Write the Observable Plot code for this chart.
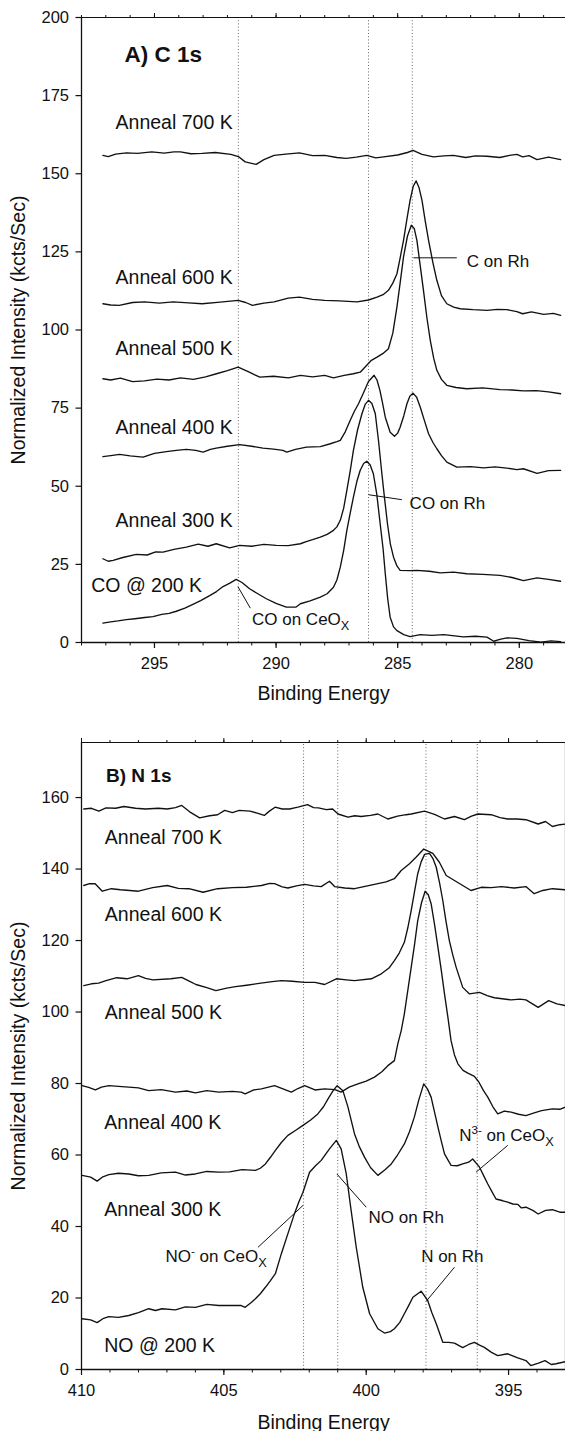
<!DOCTYPE html>
<html><head><meta charset="utf-8">
<script src="https://cdn.jsdelivr.net/npm/d3@7"></script>
<script src="https://cdn.jsdelivr.net/npm/@observablehq/plot@0.6"></script>
<style>
body{margin:0;background:#fff;}
#chart{width:565px;}
#chart svg{display:block;}
</style></head><body><div id="chart"></div>
<script>
const FONT = "'Liberation Sans', Arial, Helvetica, sans-serif";

// ---------- Panel A: C 1s ----------
const c1s_200K = [[297.12,6.2],[296.8,6.6],[296.5,6.9],[296.16,7.3],[295.8,7.6],[295.4,8.0],[295.06,8.3],[294.7,9.0],[294.4,9.3],[294.10,10.0],[293.75,11.0],[293.42,12.2],[293.1,13.4],[292.73,15.0],[292.45,16.3],[292.18,17.9],[291.9,19.0],[291.64,20.2],[291.4,19.2],[291.09,17.2],[290.75,15.6],[290.40,14.0],[290.0,12.5],[289.58,11.3],[289.19,11.3],[289.0,12.4],[288.6,13.3],[288.18,14.5],[287.9,15.6],[287.64,17.7],[287.5,20.0],[287.36,24.1],[287.22,29.5],[287.09,35.9],[286.95,41.5],[286.82,46.5],[286.68,51.5],[286.54,55.1],[286.4,57.3],[286.27,58.0],[286.13,56.8],[286.0,54.0],[285.86,47.5],[285.72,38.0],[285.6,30.0],[285.51,22.0],[285.41,14.0],[285.31,8.1],[285.17,5.0],[285.03,3.8],[284.75,2.5],[284.49,1.9],[284.07,2.5],[283.6,2.3],[283.1,2.5],[282.84,2.3],[282.3,1.8],[281.8,2.0],[281.33,1.7],[281.05,0.4],[280.8,1.0],[280.51,1.5],[280.1,1.3],[279.6,0.6],[279.1,0.1],[278.7,0.5],[278.3,0.3]];
const c1s_300K = [[297.12,26.8],[296.9,26.0],[296.7,26.3],[296.3,27.2],[295.75,28.2],[295.3,28.0],[294.95,29.0],[294.65,28.9],[294.2,29.8],[293.69,30.5],[293.2,31.5],[292.8,30.8],[292.46,31.6],[291.91,30.3],[291.5,31.1],[291.0,30.8],[290.5,31.4],[289.99,31.1],[289.5,31.0],[289.0,31.6],[288.76,32.3],[288.5,32.9],[288.18,33.7],[287.9,34.6],[287.64,35.9],[287.5,37.0],[287.36,39.1],[287.22,43.0],[287.09,48.7],[286.95,55.0],[286.82,61.5],[286.65,68.0],[286.47,73.2],[286.33,76.3],[286.2,77.5],[286.06,76.5],[285.92,73.2],[285.78,64.0],[285.65,54.0],[285.53,45.5],[285.42,38.0],[285.3,31.5],[285.17,27.3],[285.03,24.5],[284.9,23.1],[284.5,23.0],[284.21,23.1],[283.7,22.8],[283.25,22.3],[282.7,22.5],[282.16,22.0],[281.5,21.8],[280.79,21.5],[280.3,20.8],[279.83,19.8],[279.27,20.7],[278.8,20.2],[278.3,19.6]];
const c1s_400K = [[297.12,59.5],[296.8,59.8],[296.43,60.2],[296.0,59.7],[295.47,59.3],[295.0,60.5],[294.51,61.1],[294.1,61.5],[293.69,61.8],[293.3,61.5],[293.0,60.9],[292.7,61.8],[292.46,62.2],[292.0,62.8],[291.5,63.3],[291.0,62.8],[290.54,62.2],[290.1,61.9],[289.72,61.5],[289.56,60.9],[289.2,61.8],[288.75,62.5],[288.18,62.7],[287.77,63.6],[287.5,64.3],[287.36,64.7],[287.15,67.5],[286.95,71.1],[286.78,74.0],[286.61,76.4],[286.4,80.0],[286.2,83.5],[285.97,85.5],[285.85,84.0],[285.73,80.7],[285.62,76.5],[285.51,72.1],[285.31,67.3],[285.13,66.0],[285.0,67.0],[284.9,68.9],[284.75,72.5],[284.62,76.4],[284.5,78.8],[284.37,79.8],[284.22,78.5],[284.07,75.3],[283.9,71.0],[283.73,66.8],[283.55,64.0],[283.39,62.0],[283.2,59.8],[282.98,57.7],[282.57,56.1],[282.0,56.3],[281.47,55.9],[281.0,56.2],[280.51,55.8],[280.1,55.3],[279.83,55.6],[279.27,54.1],[278.8,55.0],[278.3,55.1]];
const c1s_500K = [[297.12,84.4],[296.8,84.0],[296.4,84.6],[295.9,83.5],[295.41,83.7],[294.9,84.3],[294.4,84.0],[293.93,84.7],[293.4,84.2],[292.9,85.0],[292.45,86.0],[292.0,87.0],[291.56,88.1],[291.1,86.5],[290.67,84.9],[290.1,85.2],[289.49,84.7],[289.0,85.5],[288.5,85.0],[288.0,85.5],[287.64,84.7],[287.2,85.5],[286.82,86.0],[286.54,86.5],[286.3,88.5],[286.08,90.3],[285.85,91.3],[285.6,92.5],[285.38,94.0],[285.2,99.0],[285.03,107.4],[284.9,115.0],[284.76,123.4],[284.6,130.0],[284.44,133.5],[284.32,132.5],[284.21,128.7],[284.08,121.0],[283.94,112.7],[283.8,104.0],[283.66,96.7],[283.52,91.0],[283.39,87.1],[283.2,84.2],[282.98,82.3],[282.6,81.6],[282.16,81.2],[281.5,81.5],[280.79,80.9],[280.3,80.8],[279.83,80.5],[279.3,80.6],[278.8,80.2],[278.3,79.6]];
const c1s_600K = [[297.12,108.4],[296.8,108.0],[296.45,107.9],[295.9,108.8],[295.41,109.0],[294.8,108.6],[294.23,109.0],[293.6,108.7],[293.04,108.4],[292.3,108.9],[291.56,109.5],[291.25,108.8],[290.97,107.9],[290.5,108.6],[290.08,109.0],[289.5,110.2],[289.04,110.5],[288.5,109.8],[288.0,109.5],[287.4,109.3],[286.67,109.0],[286.2,109.6],[285.85,110.5],[285.6,111.3],[285.38,112.7],[285.2,115.0],[285.03,118.0],[284.9,123.0],[284.76,128.7],[284.62,135.5],[284.49,141.5],[284.36,146.0],[284.24,147.7],[284.12,145.5],[284.0,141.5],[283.87,135.0],[283.73,128.7],[283.55,121.5],[283.39,115.9],[283.2,111.0],[282.98,108.4],[282.7,107.3],[282.43,106.8],[281.9,106.5],[281.33,106.3],[280.9,106.6],[280.51,106.5],[280.1,105.9],[279.86,105.2],[279.5,105.8],[279.0,105.0],[278.6,105.3],[278.3,104.7]];
const c1s_700K = [[297.12,155.9],[296.9,155.5],[296.6,156.3],[296.15,156.7],[295.7,156.5],[295.11,157.0],[294.6,156.6],[294.2,157.0],[293.93,157.0],[293.5,156.4],[293.04,156.5],[292.5,156.8],[291.86,156.2],[291.55,155.5],[291.27,153.8],[290.82,153.0],[290.5,154.5],[290.08,155.9],[289.6,156.3],[289.04,156.7],[288.5,155.8],[288.0,155.9],[287.5,155.2],[287.12,154.9],[286.7,155.3],[286.27,155.9],[285.9,155.1],[285.58,155.4],[285.0,156.0],[284.6,156.8],[284.37,157.5],[284.0,156.2],[283.53,155.4],[283.1,155.7],[282.71,155.9],[282.2,155.2],[281.8,155.7],[281.33,155.6],[280.8,155.2],[280.4,155.9],[280.1,156.2],[279.86,155.4],[279.6,155.8],[279.27,154.5],[278.8,155.3],[278.3,154.5]];
const seriesA = [c1s_200K, c1s_300K, c1s_400K, c1s_500K, c1s_600K, c1s_700K];
const refLinesA = [291.55, 286.2, 284.4];
const labelsA = ["Anneal 700 K","Anneal 600 K","Anneal 500 K","Anneal 400 K","Anneal 300 K","CO @ 200 K"];
const labelsA_E = [296.6, 296.6, 296.6, 296.6, 296.6, 297.6];
const labelsA_V = [164.4, 114.8, 92.0, 66.8, 36.9, 16.1];
const notesA = ["C on Rh", "CO on Rh", "CO on CeO_X"];
const notesA_E = [282.16, 284.51, 290.99];
const notesA_V = [120.3, 42.6, 5.7];
const leadersA = [[[284.35,123.1],[282.57,123.1]], [[286.2,47.3],[284.83,45.7]], [[291.57,17.9],[291.06,11.0]]];
const xTicksA = [295, 290, 285, 280];
const xMinorA = [279,280,281,282,283,284,285,286,287,288,289,290,291,292,293,294,295,296,297,298];
const yTicksA = [0, 25, 50, 75, 100, 125, 150, 175, 200];

// ---------- Panel B: N 1s ----------
const n1s_200K = [[409.98,14.2],[409.68,13.9],[409.45,13.1],[409.25,14.2],[409.04,14.8],[408.7,14.6],[408.34,15.1],[408.0,15.9],[407.64,17.0],[407.4,16.5],[407.17,17.0],[406.7,16.7],[406.35,17.5],[406.0,17.4],[405.6,18.2],[405.18,17.9],[404.71,17.9],[404.39,17.9],[404.25,17.4],[404.05,18.7],[403.89,19.8],[403.72,21.2],[403.54,23.0],[403.37,24.8],[403.19,26.8],[402.98,32.4],[402.75,38.0],[402.52,43.6],[402.37,46.8],[402.22,49.6],[401.99,55.2],[401.78,57.0],[401.58,58.5],[401.43,60.2],[401.29,61.7],[401.05,64.1],[400.88,61.7],[400.7,54.7],[400.53,44.5],[400.35,34.2],[400.12,23.0],[399.88,15.6],[399.59,11.4],[399.36,10.2],[399.15,10.6],[399.01,11.4],[398.82,13.2],[398.66,15.6],[398.5,18.0],[398.36,20.2],[398.07,21.9],[397.84,19.3],[397.7,16.0],[397.54,12.8],[397.31,7.6],[397.1,7.6],[396.9,7.4],[396.61,6.1],[396.4,7.0],[396.2,7.6],[396.02,6.8],[395.85,6.2],[395.6,4.8],[395.38,3.9],[395.03,4.4],[394.7,3.3],[394.39,2.5],[394.22,1.1],[393.95,1.8],[393.72,2.5],[393.5,1.4],[393.33,1.6],[393.0,2.2]];
const n1s_300K = [[409.98,54.3],[409.68,53.8],[409.45,52.7],[409.25,53.9],[409.04,54.5],[408.7,54.9],[408.34,54.7],[408.0,54.2],[407.64,54.3],[407.2,55.0],[406.7,55.2],[406.35,54.4],[406.0,54.7],[405.6,55.4],[405.18,55.2],[404.8,55.3],[404.36,55.9],[403.89,55.7],[403.72,56.3],[403.54,57.5],[403.37,59.3],[403.19,61.3],[402.98,63.5],[402.75,65.5],[402.5,66.8],[402.22,68.3],[401.95,69.8],[401.7,71.5],[401.5,73.5],[401.34,75.7],[401.18,77.8],[401.02,79.4],[400.82,78.0],[400.64,73.4],[400.52,69.5],[400.41,65.9],[400.25,62.5],[400.06,59.4],[399.85,56.5],[399.59,54.3],[399.35,55.8],[399.12,57.5],[398.9,60.0],[398.66,63.1],[398.48,66.5],[398.31,70.6],[398.15,75.5],[397.98,79.9],[397.85,78.5],[397.72,76.2],[397.6,72.0],[397.48,67.8],[397.36,63.8],[397.25,60.3],[397.02,57.1],[396.8,57.0],[396.61,57.5],[396.4,58.0],[396.26,58.9],[396.02,56.6],[395.88,54.3],[395.73,51.9],[395.58,49.7],[395.44,47.7],[395.2,47.2],[395.03,46.8],[394.85,46.3],[394.68,46.2],[394.55,45.2],[394.39,45.4],[394.15,44.5],[393.96,43.5],[393.7,44.5],[393.46,44.7],[393.2,44.0],[393.0,44.0]];
const n1s_400K = [[409.98,79.4],[409.75,78.9],[409.51,78.2],[409.3,79.0],[409.04,79.4],[408.7,79.2],[408.34,79.0],[408.0,78.8],[407.64,78.0],[407.2,78.3],[406.7,77.6],[406.3,77.9],[406.0,77.4],[405.6,78.0],[405.18,77.6],[404.7,77.8],[404.39,77.6],[404.25,77.1],[403.95,78.2],[403.68,78.5],[403.22,79.4],[402.9,78.4],[402.63,77.6],[402.4,78.6],[402.16,79.4],[401.8,78.2],[401.46,78.5],[401.1,78.3],[400.88,77.6],[400.6,79.0],[400.29,79.9],[400.0,80.7],[399.71,81.8],[399.45,83.3],[399.24,85.0],[399.01,86.4],[398.89,91.1],[398.77,94.8],[398.66,99.5],[398.54,106.0],[398.42,112.5],[398.3,119.0],[398.19,125.6],[398.06,130.5],[397.93,133.8],[397.82,132.8],[397.72,130.3],[397.6,124.5],[397.48,118.1],[397.36,111.5],[397.25,105.1],[397.13,98.5],[397.02,92.0],[396.9,88.0],[396.78,85.5],[396.6,83.7],[396.43,82.9],[396.2,82.0],[396.05,80.5],[395.88,78.0],[395.73,76.2],[395.55,73.5],[395.38,71.5],[395.15,72.3],[394.91,72.0],[394.65,71.4],[394.39,71.0],[394.1,71.8],[393.84,72.4],[393.46,72.9],[393.2,72.8],[393.0,73.4]];
const n1s_500K = [[409.92,107.4],[409.65,107.9],[409.4,108.1],[409.14,108.8],[408.76,109.6],[408.4,109.3],[408.0,110.2],[407.75,109.4],[407.49,109.0],[406.86,109.3],[406.48,109.7],[406.2,108.6],[405.98,107.7],[405.6,106.8],[405.28,106.0],[404.9,106.7],[404.59,107.1],[404.2,107.5],[403.7,108.1],[403.3,108.5],[402.98,108.8],[402.6,108.6],[402.16,108.3],[401.8,108.3],[401.46,107.7],[401.05,109.3],[400.7,109.0],[400.41,108.8],[399.82,109.3],[399.47,110.7],[399.2,112.3],[399.01,114.4],[398.84,116.5],[398.66,119.5],[398.54,123.5],[398.42,128.4],[398.3,133.8],[398.19,138.7],[398.07,142.0],[397.95,144.1],[397.78,144.4],[397.66,143.0],[397.54,140.5],[397.42,136.0],[397.31,131.2],[397.2,125.5],[397.08,120.0],[396.96,116.0],[396.84,112.5],[396.61,106.9],[396.38,105.1],[396.02,105.5],[395.75,104.6],[395.5,104.0],[394.91,103.4],[394.6,103.6],[394.39,103.4],[393.96,101.3],[393.59,103.2],[393.3,102.3],[393.0,101.8]];
const n1s_600K = [[409.92,135.4],[409.72,135.9],[409.52,135.9],[409.27,133.8],[408.95,134.5],[408.63,134.2],[408.3,134.0],[408.0,133.8],[407.5,134.8],[406.99,135.4],[406.6,134.6],[406.23,134.5],[405.73,133.5],[405.22,134.5],[404.7,134.8],[404.21,134.9],[403.68,135.4],[403.39,136.0],[403.22,135.9],[402.95,135.0],[402.75,134.7],[402.45,135.3],[402.16,135.7],[401.85,135.3],[401.58,135.1],[401.29,136.6],[401.11,135.1],[400.75,134.7],[400.41,134.5],[400.0,135.2],[399.59,135.9],[399.3,136.4],[399.01,137.3],[398.77,139.6],[398.48,141.5],[398.25,143.3],[397.98,145.6],[397.66,144.4],[397.43,141.9],[397.19,138.2],[396.9,136.8],[396.61,135.4],[396.32,134.0],[395.96,134.9],[395.6,134.8],[395.26,135.1],[394.8,134.7],[394.39,135.1],[394.1,133.1],[393.8,134.0],[393.46,134.5],[393.0,134.2]];
const n1s_700K = [[409.92,156.8],[409.65,157.0],[409.39,156.2],[409.14,157.1],[408.8,157.0],[408.51,157.5],[408.1,157.0],[407.75,156.8],[407.3,157.0],[406.99,156.8],[406.7,157.2],[406.48,157.8],[406.2,156.0],[405.85,154.3],[405.5,154.9],[405.22,155.2],[404.97,156.4],[404.7,155.8],[404.46,156.4],[404.08,156.2],[403.8,155.6],[403.58,155.0],[403.4,156.2],[403.2,157.3],[402.95,156.8],[402.69,156.8],[402.4,157.3],[402.06,158.0],[401.85,157.2],[401.68,157.1],[401.4,156.6],[401.18,156.8],[400.99,155.4],[400.64,154.5],[400.4,154.9],[400.18,154.7],[399.85,155.0],[399.59,155.4],[399.24,154.0],[398.9,154.8],[398.6,155.2],[398.42,155.4],[397.95,156.2],[397.6,155.3],[397.25,154.0],[396.9,154.7],[396.55,153.8],[396.3,154.8],[396.08,155.4],[395.61,155.2],[395.3,154.4],[395.03,154.0],[394.7,154.0],[394.39,153.8],[393.96,152.6],[393.7,153.3],[393.46,151.9],[393.2,152.4],[393.0,152.6]];
const seriesB = [n1s_200K, n1s_300K, n1s_400K, n1s_500K, n1s_600K, n1s_700K];
const refLinesB = [402.2, 401.0, 397.9, 396.1];
const labelsB = ["Anneal 700 K","Anneal 600 K","Anneal 500 K","Anneal 400 K","Anneal 300 K","NO @ 200 K"];
const labelsB_E = [409.18, 409.18, 409.18, 409.2, 409.2, 409.2];
const labelsB_V = [147.0, 125.6, 98.1, 67.3, 42.9, 4.8];
const notesB = ["NO^- on CeO_X", "NO on Rh", "N on Rh", "N^3- on CeO_X"];
const notesB_E = [407.05, 399.92, 398.07, 396.73];
const notesB_V = [30.0, 41.0, 30.2, 63.9];
const leadersB = [[[402.22,45.9],[403.8,34.2]], [[401.03,54.7],[400.0,45.4]], [[396.9,28.6],[397.89,19.1]], [[395.03,62.7],[396.14,55.2]]];
const xTicksB = [410, 405, 400, 395];
const xMinorB = [393,394,395,396,397,398,399,400,401,402,403,404,405,406,407,408,409,410];
const yTicksB = [0, 20, 40, 60, 80, 100, 120, 140, 160];

function toRows(series) {
  return series.flatMap((s, k) => s.map(([e, v]) => ({e, v, k})));
}

function panel(cfg) {
  const [x0, x1] = cfg.xDomain, [y0, y1] = cfg.yDomain;
  const labels = cfg.labels.map((t, i) => ({t, e: cfg.labelsE[i], v: cfg.labelsV[i]}));
  const notes = cfg.notes.map((t, i) => ({t, e: cfg.notesE[i], v: cfg.notesV[i]}));
  const leaders = cfg.leaders.map(([a, b]) => ({x1: a[0], y1: a[1], x2: b[0], y2: b[1]}));
  const marks = [
    Plot.ruleX(cfg.refLines, {y1: y0, y2: y1, stroke: "#666", strokeWidth: 1, strokeDasharray: "1,2.2"}),
    Plot.line(toRows(cfg.series), {x: "e", y: "v", z: "k", stroke: "#111", strokeWidth: 1.35, curve: "linear"}),
    Plot.link(leaders, {x1: "x1", y1: "y1", x2: "x2", y2: "y2", stroke: "#111", strokeWidth: 1}),
    Plot.text(labels, {x: "e", y: "v", text: "t", textAnchor: "start", lineAnchor: "bottom", fontSize: 19.5, fill: "#111"}),
    Plot.text(notes, {x: "e", y: "v", text: "t", textAnchor: "start", lineAnchor: "bottom", fontSize: 17, fill: "#111"}),
    Plot.text([cfg.title], {x: cfg.titleE, y: cfg.titleV, text: d => d, textAnchor: "start", lineAnchor: "bottom", fontSize: cfg.titleSize, fontWeight: "bold", fill: "#111"}),
    // frame lines
    Plot.ruleX([x0], {y1: y0, y2: y1, stroke: "#111", strokeWidth: 1.3}),
    Plot.ruleY([y0], {stroke: "#111", strokeWidth: 1.3}),
    Plot.ruleY([y1], {stroke: "#111", strokeWidth: 1.1}),
    // top ticks (outward)
    Plot.axisX(cfg.xMinor, {anchor: "top", tickSize: 3, tickFormat: () => "", label: null, strokeWidth: 1}),
    Plot.axisX(cfg.xTicks, {anchor: "top", tickSize: 5, tickFormat: () => "", label: null, strokeWidth: 1}),
    // bottom axis
    Plot.axisX(cfg.xMinor, {anchor: "bottom", tickSize: 3.5, tickFormat: () => "", label: null, strokeWidth: 1}),
    Plot.axisX(cfg.xTicks, {anchor: "bottom", tickSize: 6, tickPadding: 8.5, fontSize: 16.5, label: null, strokeWidth: 1.2}),
    Plot.axisX([], {anchor: "bottom", tickSize: 0, fontSize: 19.5, label: "Binding Energy", labelAnchor: "center", labelArrow: "none", labelOffset: cfg.xLabelOffset}),
    Plot.axisY(cfg.yTicks, {anchor: "left", tickSize: 5.5, tickPadding: 7, fontSize: 16.5, label: null, strokeWidth: 1.2}),
    Plot.axisY([], {anchor: "left", tickSize: 0, fontSize: 19.5, label: "Normalized Intensity (kcts/Sec)", labelAnchor: "center", labelArrow: "none", labelOffset: 70})
  ];
  if (cfg.rightFrame) marks.push(Plot.ruleX([x1], {y1: y0, y2: y1, stroke: "#111", strokeWidth: 1.2}));
  return Plot.plot({
    width: 565, height: cfg.height,
    marginLeft: 81, marginRight: 0, marginTop: cfg.marginTop, marginBottom: cfg.marginBottom,
    style: {fontFamily: FONT, fontSize: "19.5px", color: "#111", background: "#fff"},
    x: {domain: cfg.xDomain},
    y: {domain: cfg.yDomain},
    marks
  });
}

function richText(svg) {
  d3.select(svg).selectAll("text").each(function () {
    const t = this.textContent;
    if (!/[_^]/.test(t)) return;
    const parts = t.split(/(\^\S+|_\S+)/).filter(s => s.length);
    const sel = d3.select(this);
    sel.text(null);
    for (const p of parts) {
      if (p[0] === "^") sel.append("tspan").attr("baseline-shift", "7").attr("font-size", "0.68em").text(p.slice(1));
      else if (p[0] === "_") sel.append("tspan").attr("baseline-shift", "-5").attr("font-size", "0.75em").text(p.slice(1));
      else sel.append("tspan").text(p);
    }
  });
}

const svgA = panel({
  height: 705, marginTop: 17, marginBottom: 63,
  xDomain: [298, 278.1], yDomain: [0, 200],
  series: seriesA, refLines: refLinesA,
  labels: labelsA, labelsE: labelsA_E, labelsV: labelsA_V,
  notes: notesA, notesE: notesA_E, notesV: notesA_V, leaders: leadersA,
  title: "A) C 1s", titleE: 296.23, titleV: 185.7, titleSize: 22.5,
  xTicks: xTicksA, xMinor: xMinorA, yTicks: yTicksA,
  xLabelOffset: 57, rightFrame: false
});
const svgB = panel({
  height: 726, marginTop: 37, marginBottom: 62,
  xDomain: [410, 393], yDomain: [0, 175.4],
  series: seriesB, refLines: refLinesB,
  labels: labelsB, labelsE: labelsB_E, labelsV: labelsB_V,
  notes: notesB, notesE: notesB_E, notesV: notesB_V, leaders: leadersB,
  title: "B) N 1s", titleE: 409.14, titleV: 164.3, titleSize: 19,
  xTicks: xTicksB, xMinor: xMinorB, yTicks: yTicksB,
  xLabelOffset: 59, rightFrame: true
});
richText(svgA); richText(svgB);
document.getElementById("chart").append(svgA, svgB);
</script></body></html>
